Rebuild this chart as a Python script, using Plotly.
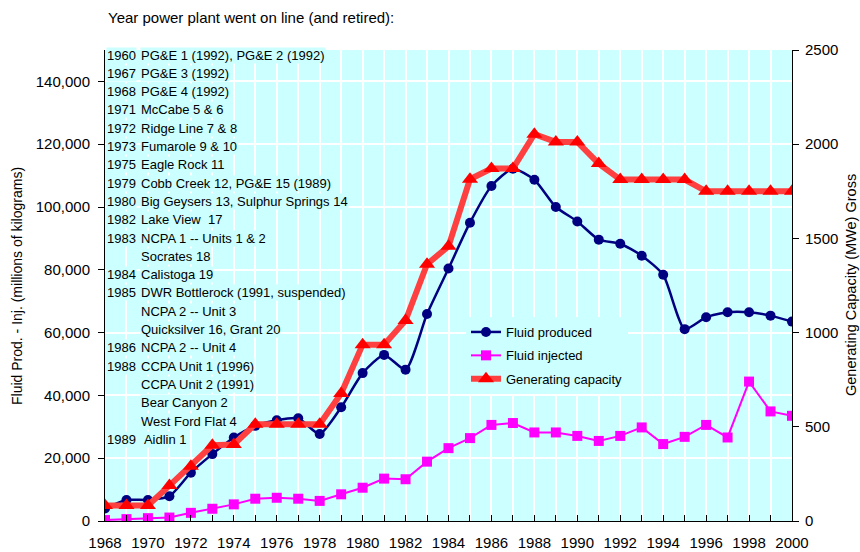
import plotly.graph_objects as go

years = list(range(1968, 2001))

fluid_produced = [4000, 6700, 6700, 7900, 15400, 21300, 26600, 30300, 32100, 32700,
                  27700, 36200, 47100, 52900, 48200, 65900, 80400, 95000, 106700, 112200,
                  108700, 100000, 95400, 89600, 88300, 84500, 78400, 61100, 64900, 66500,
                  66500, 65400, 63500]

fluid_injected = [300, 600, 900, 1100, 2600, 3900, 5300, 7100, 7400, 7100,
                  6400, 8500, 10600, 13500, 13300, 18900, 23200, 26400, 30600, 31200,
                  28200, 28200, 27100, 25500, 27100, 29800, 24500, 26800, 30600, 26600,
                  44400, 34900, 33500]

gen_capacity = [82, 82, 82, 188, 290, 402, 406, 514, 514, 514,
                514, 677, 936, 936, 1064, 1363, 1458, 1814, 1871, 1871,
                2053, 2012, 2012, 1897, 1812, 1812, 1812, 1812, 1750, 1750,
                1750, 1750, 1750]

plant_years = ["1960", "1967", "1968", "1971", "1972", "1973", "1975", "1979", "1980",
               "1982", "1983", "", "1984", "1985", "", "", "1986", "1988", "", "", "", "1989"]
plant_names = ["PG&E 1 (1992), PG&E 2 (1992)", "PG&E 3 (1992)", "PG&E 4 (1992)",
               "McCabe 5 & 6", "Ridge Line 7 & 8", "Fumarole 9 & 10", "Eagle Rock 11",
               "Cobb Creek 12, PG&E 15 (1989)", "Big Geysers 13, Sulphur Springs 14",
               "Lake View  17", "NCPA 1 -- Units 1 & 2", "Socrates 18", "Calistoga 19",
               "DWR Bottlerock (1991, suspended)", "NCPA 2 -- Unit 3",
               "Quicksilver 16, Grant 20", "NCPA 2 -- Unit 4", "CCPA Unit 1 (1996)",
               "CCPA Unit 2 (1991)", "Bear Canyon 2", "West Ford Flat 4", " Aidlin 1"]

FONT = "Arial, Liberation Sans, sans-serif"
BG = "#CCFFFF"

W, H = 860, 552
# plot area in pixels
L, R, T, B = 105, 792, 50, 521

def px_x(sx):
    return (sx - L) / (R - L)
def px_y(sy):
    return (B - sy) / (B - T)

fig = go.Figure()

fig.add_trace(go.Scatter(
    x=years, y=fluid_produced, name="Fluid produced", mode="lines+markers",
    line=dict(color="#000080", width=2.5, shape="spline", smoothing=0.6),
    marker=dict(symbol="circle", size=10, color="#000080"),
    legendgroup="a", yaxis="y"))

fig.add_trace(go.Scatter(
    x=years, y=fluid_injected, name="Fluid injected", mode="lines+markers",
    line=dict(color="#FF00FF", width=2),
    marker=dict(symbol="square", size=10, color="#FF00FF"),
    legendgroup="b", yaxis="y"))

fig.add_trace(go.Scatter(
    x=years, y=gen_capacity, name="Generating capacity", mode="lines+markers",
    line=dict(color="#FF4040", width=6),
    marker=dict(symbol="triangle-up", size=14, color="#FF0000"),
    legendgroup="c", yaxis="y2"))

annotations = []
for i, (yr, nm) in enumerate(zip(plant_years, plant_names)):
    sy = 55 + i * 18.3
    if yr:
        annotations.append(dict(x=px_x(106), y=px_y(sy), xref="paper", yref="paper",
                                text=yr, showarrow=False, xanchor="left", yanchor="middle",
                                font=dict(family=FONT, size=13, color="black"),
                                bgcolor=BG, borderpad=0))
    annotations.append(dict(x=px_x(140), y=px_y(sy), xref="paper", yref="paper",
                            text=nm, showarrow=False, xanchor="left", yanchor="middle",
                            font=dict(family=FONT, size=13, color="black"),
                            bgcolor=BG, borderpad=0))

annotations.append(dict(x=px_x(106), y=px_y(17), xref="paper", yref="paper",
                        text="Year power plant went on line (and retired):",
                        showarrow=False, xanchor="left", yanchor="middle",
                        font=dict(family=FONT, size=15, color="black")))
annotations.append(dict(x=px_x(17), y=px_y(286), xref="paper", yref="paper",
                        text="Fluid Prod. - Inj. (millions of kilograms)", textangle=-90,
                        showarrow=False, xanchor="center", yanchor="middle",
                        font=dict(family=FONT, size=14, color="black")))
annotations.append(dict(x=px_x(851), y=px_y(285), xref="paper", yref="paper",
                        text="Generating Capacity (MWe) Gross", textangle=-90,
                        showarrow=False, xanchor="center", yanchor="middle",
                        font=dict(family=FONT, size=14.5, color="black")))

fig.update_layout(
    width=W, height=H,
    margin=dict(l=L, r=W - R, t=T, b=H - B, autoexpand=False),
    paper_bgcolor="white", plot_bgcolor=BG,
    font=dict(family=FONT, size=15, color="black"),
    showlegend=True,
    legend=dict(x=px_x(466), y=px_y(317), xanchor="left", yanchor="top",
                bgcolor=BG, font=dict(family=FONT, size=13, color="black"),
                tracegroupgap=3.5, borderwidth=0),
    xaxis=dict(range=[1968, 2000], tick0=1968, dtick=2, tickformat="d",
               showline=True, linecolor="black", linewidth=1,
               ticks="inside", ticklen=6, tickcolor="black",
               showgrid=True, gridcolor="white", gridwidth=2,
               minor=dict(dtick=1, tick0=1968, showgrid=True, gridcolor="white", gridwidth=2,
                          ticks="inside", ticklen=6, tickcolor="black"),
               zeroline=False, tickfont=dict(size=15), ticklabelstandoff=8),
    yaxis=dict(range=[0, 150000], dtick=20000, tickformat=",",
               showline=True, linecolor="black", linewidth=1,
               ticks="outside", ticklen=6, tickcolor="black",
               showgrid=True, gridcolor="white", gridwidth=2, zeroline=False,
               tickfont=dict(size=15), ticklabelstandoff=5),
    yaxis2=dict(range=[0, 2500], dtick=500, overlaying="y", side="right",
                showline=True, linecolor="black", linewidth=1,
                ticks="outside", ticklen=6, tickcolor="black",
                showgrid=False, zeroline=False, tickfont=dict(size=15),
                ticklabelstandoff=3),
    yaxis3=dict(range=[0, 2500], dtick=500, overlaying="y", side="right",
                showline=False, ticks="inside", ticklen=6, tickcolor="black",
                showticklabels=False, showgrid=False, zeroline=False),
    annotations=annotations,
)

# remove the browser's default page margin so the figure fills the 860x552 window
fig.write_html("out.html",
               config={"displayModeBar": False},
               post_script="document.body.style.margin='0px';document.body.style.overflow='hidden';")
